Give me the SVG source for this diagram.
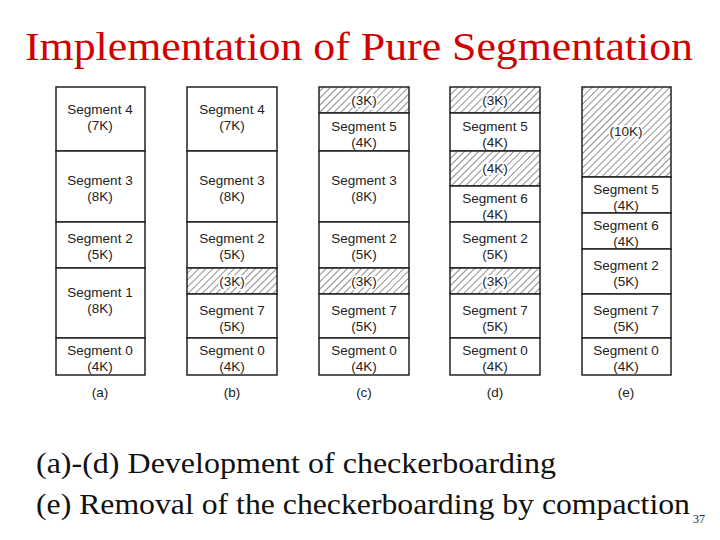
<svg xmlns="http://www.w3.org/2000/svg" width="720" height="540" viewBox="0 0 720 540">
<defs>
<pattern id="h" patternUnits="userSpaceOnUse" width="5" height="5" patternTransform="rotate(45)"><rect width="5" height="5" fill="#fff"/><line x1="0" y1="0" x2="0" y2="5" stroke="#222" stroke-width="1"/></pattern>
<style>
.b{fill:#fff;stroke:#222;stroke-width:1.5}
.x{fill:url(#h);stroke:#222;stroke-width:1.5}
text{font-family:"Liberation Sans",Arial,sans-serif;font-size:13.5px;fill:#222;text-anchor:middle}
.t{font-family:"Liberation Serif","Times New Roman",serif;fill:#d00000;font-size:40px}
.c{font-family:"Liberation Serif","Times New Roman",serif;fill:#111;font-size:29px;text-anchor:start}
.hl{paint-order:stroke;stroke:#fff;stroke-width:3}
</style>
</defs>
<rect width="720" height="540" fill="#fff"/>
<text class="t" x="359" y="60" textLength="668" lengthAdjust="spacingAndGlyphs">Implementation of Pure Segmentation</text>
<g id="colA">
<rect class="b" x="56" y="87" width="89" height="64"/><text x="100" y="114">Segment 4</text><text x="100" y="130">(7K)</text>
<rect class="b" x="56" y="151" width="89" height="71"/><text x="100" y="185">Segment 3</text><text x="100" y="201">(8K)</text>
<rect class="b" x="56" y="222" width="89" height="46"/><text x="100" y="243">Segment 2</text><text x="100" y="259">(5K)</text>
<rect class="b" x="56" y="268" width="89" height="70"/><text x="100" y="297">Segment 1</text><text x="100" y="313">(8K)</text>
<rect class="b" x="56" y="338" width="89" height="37"/><text x="100" y="355">Segment 0</text><text x="100" y="371">(4K)</text>
<text x="100" y="397">(a)</text>
</g>
<g id="colB">
<rect class="b" x="187" y="87" width="90" height="64"/><text x="232" y="114">Segment 4</text><text x="232" y="130">(7K)</text>
<rect class="b" x="187" y="151" width="90" height="71"/><text x="232" y="185">Segment 3</text><text x="232" y="201">(8K)</text>
<rect class="b" x="187" y="222" width="90" height="46"/><text x="232" y="243">Segment 2</text><text x="232" y="259">(5K)</text>
<rect class="x" x="187" y="268" width="90" height="26"/><text class="hl" x="232" y="286">(3K)</text>
<rect class="b" x="187" y="294" width="90" height="44"/><text x="232" y="315">Segment 7</text><text x="232" y="331">(5K)</text>
<rect class="b" x="187" y="338" width="90" height="37"/><text x="232" y="355">Segment 0</text><text x="232" y="371">(4K)</text>
<text x="232" y="397">(b)</text>
</g>
<g id="colC">
<rect class="x" x="319" y="87" width="90" height="26"/><text class="hl" x="364" y="105">(3K)</text>
<rect class="b" x="319" y="113" width="90" height="38"/><text x="364" y="131">Segment 5</text><text x="364" y="147">(4K)</text>
<rect class="b" x="319" y="151" width="90" height="71"/><text x="364" y="185">Segment 3</text><text x="364" y="201">(8K)</text>
<rect class="b" x="319" y="222" width="90" height="46"/><text x="364" y="243">Segment 2</text><text x="364" y="259">(5K)</text>
<rect class="x" x="319" y="268" width="90" height="26"/><text class="hl" x="364" y="286">(3K)</text>
<rect class="b" x="319" y="294" width="90" height="44"/><text x="364" y="315">Segment 7</text><text x="364" y="331">(5K)</text>
<rect class="b" x="319" y="338" width="90" height="37"/><text x="364" y="355">Segment 0</text><text x="364" y="371">(4K)</text>
<text x="364" y="397">(c)</text>
</g>
<g id="colD">
<rect class="x" x="450" y="87" width="90" height="26"/><text class="hl" x="495" y="105">(3K)</text>
<rect class="b" x="450" y="113" width="90" height="38"/><text x="495" y="131">Segment 5</text><text x="495" y="147">(4K)</text>
<rect class="x" x="450" y="151" width="90" height="35"/><text class="hl" x="495" y="173">(4K)</text>
<rect class="b" x="450" y="186" width="90" height="36"/><text x="495" y="203">Segment 6</text><text x="495" y="219">(4K)</text>
<rect class="b" x="450" y="222" width="90" height="46"/><text x="495" y="243">Segment 2</text><text x="495" y="259">(5K)</text>
<rect class="x" x="450" y="268" width="90" height="26"/><text class="hl" x="495" y="286">(3K)</text>
<rect class="b" x="450" y="294" width="90" height="44"/><text x="495" y="315">Segment 7</text><text x="495" y="331">(5K)</text>
<rect class="b" x="450" y="338" width="90" height="37"/><text x="495" y="355">Segment 0</text><text x="495" y="371">(4K)</text>
<text x="495" y="397">(d)</text>
</g>
<g id="colE">
<rect class="x" x="582" y="87" width="89" height="90"/><text class="hl" x="626" y="136">(10K)</text>
<rect class="b" x="582" y="177" width="89" height="36"/><text x="626" y="194">Segment 5</text><text x="626" y="210">(4K)</text>
<rect class="b" x="582" y="213" width="89" height="36"/><text x="626" y="230">Segment 6</text><text x="626" y="246">(4K)</text>
<rect class="b" x="582" y="249" width="89" height="45"/><text x="626" y="270">Segment 2</text><text x="626" y="286">(5K)</text>
<rect class="b" x="582" y="294" width="89" height="44"/><text x="626" y="315">Segment 7</text><text x="626" y="331">(5K)</text>
<rect class="b" x="582" y="338" width="89" height="37"/><text x="626" y="355">Segment 0</text><text x="626" y="371">(4K)</text>
<text x="626" y="397">(e)</text>
</g>
<g id="connectors"/>
<text class="c" x="36" y="473" textLength="520" lengthAdjust="spacingAndGlyphs">(a)-(d) Development of checkerboarding</text>
<text class="c" x="36" y="514" textLength="654" lengthAdjust="spacingAndGlyphs">(e) Removal of the checkerboarding by compaction</text>
<text x="699" y="523" style="font-family:'Liberation Serif',serif;font-size:12px">37</text>
</svg>
